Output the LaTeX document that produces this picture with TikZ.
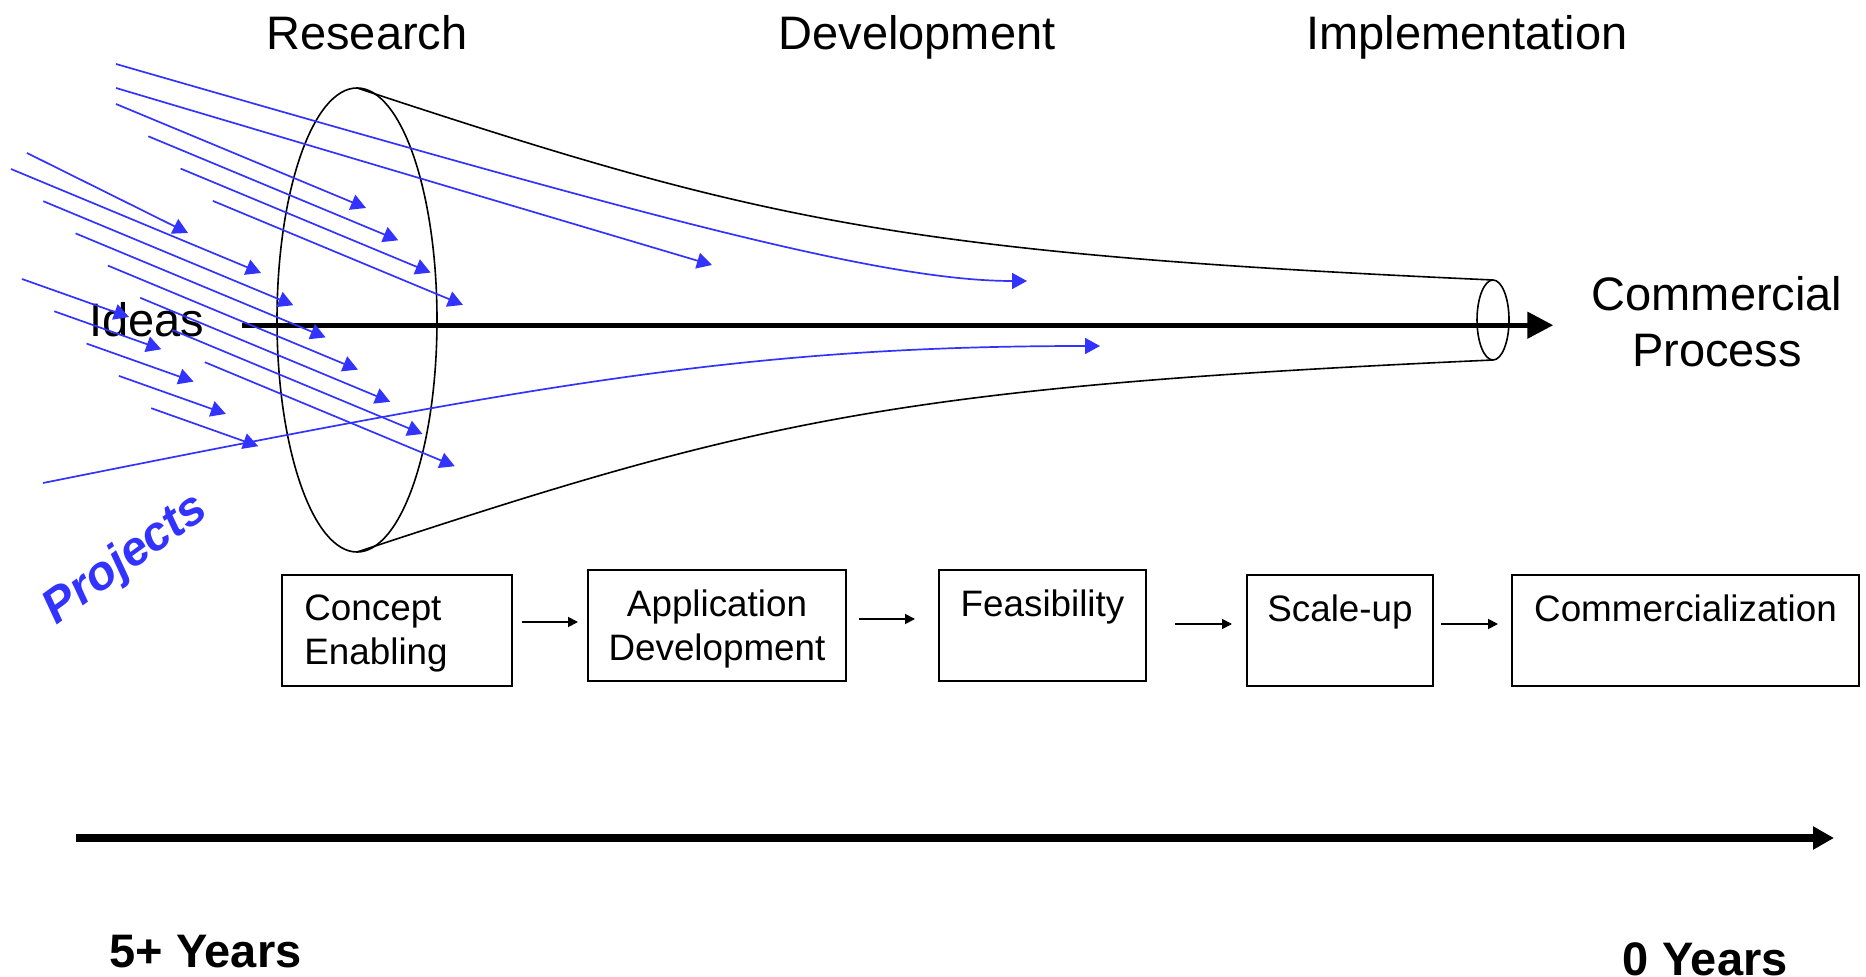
\documentclass[tikz,border=0pt]{standalone}
\usepackage{fontspec}
\setmainfont{Liberation Sans}
\usepackage{tikz}
\usetikzlibrary{shapes,calc,arrows.meta}
\definecolor{ideablue}{RGB}{51,51,255}
\tikzstyle{idea} = [draw=ideablue, line width=0.85pt, -{Triangle[length=7.5pt,width=8pt]}]
\tikzstyle{rim} = [draw, ellipse, line width=0.8pt, inner sep=0pt, outer sep=0pt]
\tikzstyle{stage} = [draw, line width=0.8pt, inner sep=0pt, outer sep=0pt, anchor=north west, minimum height=55.5pt]
\tikzstyle{stagetext} = [anchor=north, inner sep=0pt, yshift=-9.5pt, align=center, font=\fontsize{18.4}{22}\selectfont]
\tikzstyle{flow} = [draw, line width=0.9pt, -{Triangle[length=5pt,width=5pt]}]
\tikzstyle{phase} = [anchor=base, inner sep=0pt, font=\fontsize{23.5}{28}\selectfont]
\newcommand{\yearfont}{\fontsize{23.5}{28}\selectfont\bfseries}

\begin{document}
\begin{tikzpicture}[x=0.5pt, y=-0.5pt]
  \useasboundingbox (0,0) rectangle (1866,977);
  % phases
  \node[phase] (research) at (367,50) {Research};
  \node[phase] (development) at (917,50) {Development};
  \node[phase] (implementation) at (1467,50) {Implementation};
  % funnel
  \node[rim, minimum width=80pt, minimum height=232pt] (mouth) at (357,320) {};
  \node[rim, minimum width=16pt, minimum height=40pt] (neck) at (1493,320) {};
  \draw[line width=0.8pt] (mouth.north) .. controls (757,220) and (893,253) .. (neck.north);
  \draw[line width=0.8pt] (mouth.south) .. controls (757,420) and (893,387) .. (neck.south);
  \node[phase, anchor=base west] (ideas) at (89,337) {Ideas};
  \node[phase, anchor=north, align=center] (process) at (1717,276) {Commercial\\Process};
  \draw[line width=2.4pt, -{Triangle[length=13pt,width=13pt]}, shorten <=18.5pt, shorten >=19pt]
    ([yshift=-2.5pt]ideas.east) -- ([yshift=-2.5pt]ideas.east -| process.west);
  % projects coming in
  \draw[idea] (116,88) -- (712,265);
  \draw[idea] (27,153) -- (188,233);
  \foreach \i in {0,...,3}
    \draw[idea] ({116+32.3*\i},{104+32.3*\i}) -- ++(250,104);
  \foreach \i in {0,...,6}
    \draw[idea] ({11+32.3*\i},{169+32.2*\i}) -- ++(250,104);
  \foreach \i in {0,...,4}
    \draw[idea] ({22+32.3*\i},{279+32.3*\i}) -- ++(107,38);
  \draw[idea] (116,64) .. controls (640,215) and (880,281) .. (1027,281);
  \draw[idea] (43,483) .. controls (543,383) and (750,346) .. (1100,346);
  \node[rotate=36, text=ideablue, font=\fontsize{24}{28}\selectfont\bfseries\itshape] (projects) at (126,560) {Projects};
  % stages
  \node[stage, minimum width=115pt, label={[stagetext, anchor=north west, align=left, xshift=11pt]north west:{Concept\\Enabling}}] (concept) at (282,575) {};
  \node[stage, minimum width=129pt, label={[stagetext]north:{Application\\Development}}] (appdev) at (588,570) {};
  \node[stage, minimum width=103.5pt, label={[stagetext]north:{Feasibility}}] (feasibility) at (939,570) {};
  \node[stage, minimum width=93pt, label={[stagetext]north:{Scale-up}}] (scaleup) at (1247,575) {};
  \node[stage, minimum width=173.5pt, label={[stagetext]north:{Commercialization}}] (commercialization) at (1512,575) {};
  \draw[flow, shorten <=5pt, shorten >=5pt] ($(concept.north east)+(0,-23.5pt)$) -- ($(concept.north east -| appdev.west)+(0,-23.5pt)$);
  \draw[flow, shorten <=6.5pt, shorten >=12pt] ($(appdev.north east)+(0,-24.5pt)$) -- ($(appdev.north east -| feasibility.west)+(0,-24.5pt)$);
  \draw[flow, shorten <=14.5pt, shorten >=7.5pt] ($(feasibility.north east)+(0,-27pt)$) -- ($(feasibility.north east -| scaleup.west)+(0,-27pt)$);
  \draw[flow, shorten <=4pt, shorten >=7pt] ($(scaleup.north east)+(0,-24.5pt)$) -- ($(scaleup.north east -| commercialization.west)+(0,-24.5pt)$);
  % time line
  \draw[line width=4pt, -{Triangle[length=10.5pt,width=11pt]}] (76,838) coordinate (past) -- (1834,838) coordinate (today);
  \node[anchor=base west, inner sep=0pt, font=\yearfont] (fiveyears) at (109,967) {5+ Years};
  \node[anchor=base east, inner sep=0pt, font=\yearfont] (zeroyears) at (1788,975) {0 Years};
\end{tikzpicture}
\end{document}
